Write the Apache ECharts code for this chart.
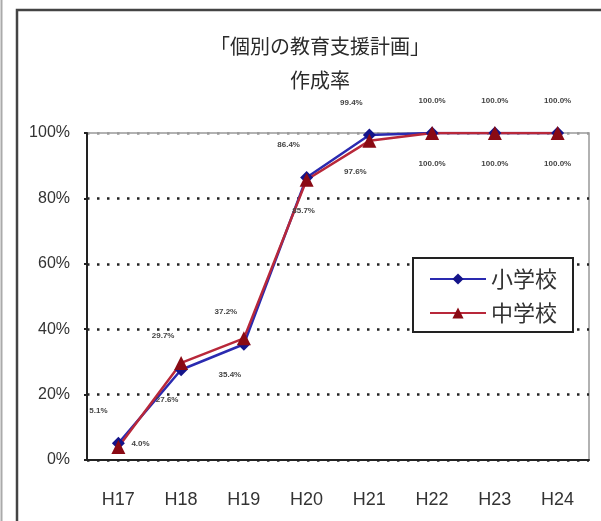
<!DOCTYPE html>
<html><head><meta charset="utf-8">
<script src="https://cdn.jsdelivr.net/npm/echarts@6/dist/echarts.min.js"></script>
<style>html,body{margin:0;padding:0;background:#fff}#c{width:601px;height:521px}</style>
</head><body><div id="c"></div>
<script>
const categories = ['H17','H18','H19','H20','H21','H22','H23','H24'];
const elementary = [5.1, 27.6, 35.4, 86.4, 99.4, 100.0, 100.0, 100.0];
const juniorHigh = [4.0, 29.7, 37.2, 85.7, 97.6, 100.0, 100.0, 100.0];
const yTicks = [0, 20, 40, 60, 80, 100];
const titleLines = ['「個別の教育支援計画」', '作成率'];
const seriesNames = ['小学校', '中学校'];

const JP = '"Noto Sans CJK JP", sans-serif';
const SANS = '"Liberation Sans", Arial, sans-serif';

// label placement: the higher series is labelled above, the lower one below
function labelFor(own, other, isFirst) {
  return own.map((v, i) => {
    const above = isFirst ? v >= other[i] : v > other[i];
    let position = above ? 'top' : 'bottom';
    let distance = above ? (isFirst ? 22 : 16) : 20;
    let dx = i >= 5 ? 0 : (above ? -18 : -14);
    let dy = 0;
    if (i === 0) {
      if (above) { dx = -20; }
      else { position = 'right'; distance = 6; dx = 0; dy = -3; }
    }
    if (i === 3 && !above) dx = -3;
    return {value: v, label: {position, distance, offset: [dx, dy]}};
  });
}

const chart = echarts.init(document.getElementById('c'), null, {renderer: 'canvas'});
chart.setOption({
  animation: false,
  backgroundColor: '#fff',
  graphic: [
    {type: 'line', shape: {x1: 1.5, y1: 0, x2: 1.5, y2: 521}, style: {stroke: '#aaa', lineWidth: 2}},
    {type: 'rect', shape: {x: 17, y: 10, width: 620, height: 530}, style: {fill: 'none', stroke: '#444', lineWidth: 2.5}}
  ],
  title: {
    text: titleLines.join('\n'),
    left: 315, top: 24, textAlign: 'center',
    textStyle: {fontFamily: JP, fontSize: 20, fontWeight: 'normal', color: '#2a2a2a', lineHeight: 34}
  },
  legend: {
    orient: 'vertical', left: 413, top: 258,
    padding: [10, 16, 8, 16], itemGap: 12,
    itemWidth: 56, itemHeight: 14,
    borderColor: '#222', borderWidth: 2, backgroundColor: '#fff',
    textStyle: {fontFamily: JP, fontSize: 22, color: '#333'},
    data: seriesNames
  },
  grid: {left: 87, right: 12, top: 133, bottom: 61, show: true, borderColor: '#999', borderWidth: 1.5},
  xAxis: {
    type: 'category', data: categories, boundaryGap: true,
    axisLine: {lineStyle: {color: '#222', width: 2}},
    axisTick: {inside: true, length: 5, lineStyle: {color: '#222', width: 2}},
    axisLabel: {fontFamily: SANS, fontSize: 18, color: '#333', margin: 31}
  },
  yAxis: {
    type: 'value', min: 0, max: 100, interval: 20,
    axisLine: {show: true, lineStyle: {color: '#222', width: 2}},
    axisTick: {show: true, length: 3, lineStyle: {color: '#222', width: 2}},
    axisLabel: {fontFamily: SANS, fontSize: 16, color: '#333', margin: 17, formatter: v => yTicks.includes(v) ? v + '%' : ''},
    splitLine: {lineStyle: {color: ['#222','#222','#222','#222','#222','#999'], width: 2.5, type: [2.5, 7.5]}}
  },
  series: [
    {
      name: seriesNames[0], type: 'line', data: labelFor(elementary, juniorHigh, true),
      symbol: 'diamond', symbolSize: 13,
      lineStyle: {color: '#2a2ab0', width: 2.5},
      itemStyle: {color: '#14148a'},
      label: {show: true, fontFamily: SANS, fontSize: 8, fontWeight: 'bold', color: '#444', formatter: p => p.value.toFixed(1) + '%'}
    },
    {
      name: seriesNames[1], type: 'line', data: labelFor(juniorHigh, elementary, false),
      symbol: 'triangle', symbolSize: 14,
      lineStyle: {color: '#b8283a', width: 2.5},
      itemStyle: {color: '#8a0a14'},
      label: {show: true, fontFamily: SANS, fontSize: 8, fontWeight: 'bold', color: '#444', formatter: p => p.value.toFixed(1) + '%'}
    }
  ]
});
</script></body></html>
